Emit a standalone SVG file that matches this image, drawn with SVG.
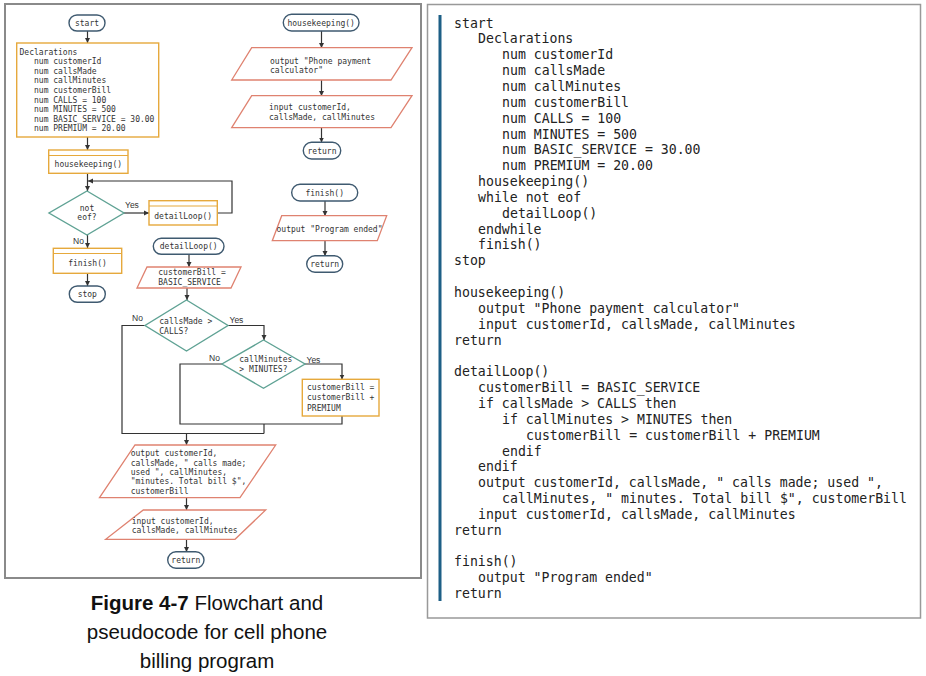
<svg xmlns="http://www.w3.org/2000/svg" width="926" height="676" viewBox="0 0 926 676">
<style>
.fc{font-family:"DejaVu Sans Mono","Liberation Mono",monospace;font-size:8px;fill:#333}
.fcm{font-family:"DejaVu Sans Mono","Liberation Mono",monospace;font-size:8px;fill:#333;text-anchor:middle}
.lbl{font-family:"Liberation Sans","DejaVu Sans",sans-serif;font-size:8.5px;fill:#333}
.term{fill:#fff;stroke:#3f5a70;stroke-width:1.4}
.proc{fill:#fff;stroke:#e6a93c;stroke-width:1.4}
.io{fill:#fff;stroke:#df8270;stroke-width:1.3}
.dec{fill:#fff;stroke:#5fa294;stroke-width:1.4}
.conn path{fill:none;stroke:#333;stroke-width:1.2}
.code{font-family:"DejaVu Sans Mono","Liberation Mono",monospace;font-size:13.2px;fill:#222}
.cap{font-family:"Liberation Sans","DejaVu Sans",sans-serif;font-size:20.5px;fill:#111;text-anchor:middle}
</style>
<defs>
<marker id="arr" markerUnits="userSpaceOnUse" markerWidth="6" markerHeight="6" refX="5" refY="3" orient="auto">
<path d="M0,0.5 L5,3 L0,5.5 z" fill="#333"/>
</marker>
</defs>
<rect width="926" height="676" fill="#fff"/>
<!-- frames -->
<rect id="frameLeft" x="5" y="4" width="416" height="574" fill="none" stroke="#8a8a8a" stroke-width="2"/>
<rect id="frameRight" x="427.5" y="4.5" width="493" height="613.5" fill="none" stroke="#999" stroke-width="1.5"/>
<rect x="438.5" y="15" width="3" height="586" fill="#1d5f86"/>

<!-- connectors -->
<g id="connectors" class="conn">
<path d="M87.5,31 V43" marker-end="url(#arr)"/>
<path d="M87.5,137 V150" marker-end="url(#arr)"/>
<path d="M87.5,173 V191" marker-end="url(#arr)"/>
<path d="M124,213 H149" marker-end="url(#arr)"/>
<path d="M217,213 H232 V181 H88" marker-end="url(#arr)"/>
<path d="M87.5,235 V248" marker-end="url(#arr)"/>
<path d="M87.5,273 V286" marker-end="url(#arr)"/>
<path d="M321.5,31 V48" marker-end="url(#arr)"/>
<path d="M321.5,80 V96" marker-end="url(#arr)"/>
<path d="M321.5,128 V142.5" marker-end="url(#arr)"/>
<path d="M325,201 V216" marker-end="url(#arr)"/>
<path d="M325,241 V256" marker-end="url(#arr)"/>
<path d="M189,254.5 V267" marker-end="url(#arr)"/>
<path d="M187,288 V300" marker-end="url(#arr)"/>
<path d="M228,325.5 H264 V340" marker-end="url(#arr)"/>
<path d="M145,325.5 H122 V433.5 H264"/>
<path d="M305,364 H342 V379.5" marker-end="url(#arr)"/>
<path d="M342,416 V424 H180 V364 H222"/>
<path d="M264,424 V433.5"/>
<path d="M186.5,433.5 V445" marker-end="url(#arr)"/>
<path d="M186.5,498 V510" marker-end="url(#arr)"/>
<path d="M186.5,539.5 V552" marker-end="url(#arr)"/>
</g>

<!-- labels on connectors -->
<g id="connector-labels">
<text class="lbl" x="125" y="207.5">Yes</text>
<text class="lbl" x="73" y="244">No</text>
<text class="lbl" x="132" y="320.5">No</text>
<text class="lbl" x="229.5" y="323">Yes</text>
<text class="lbl" x="209" y="361">No</text>
<text class="lbl" x="306.5" y="363">Yes</text>
</g>

<!-- main line -->
<g id="start">
<rect class="term" x="69" y="15" width="36" height="16" rx="8"/>
<text class="fcm" x="87" y="26">start</text>
</g>
<g id="declarations">
<rect class="proc" x="16.7" y="43" width="142" height="94"/>
<text class="fc" x="19.5" y="54.5">Declarations</text>
<text class="fc" x="34" y="64.2">num customerId</text>
<text class="fc" x="34" y="73.8">num callsMade</text>
<text class="fc" x="34" y="83.4">num callMinutes</text>
<text class="fc" x="34" y="93">num customerBill</text>
<text class="fc" x="34" y="102.6">num CALLS = 100</text>
<text class="fc" x="34" y="112.2">num MINUTES = 500</text>
<text class="fc" x="34" y="121.8">num BASIC_SERVICE = 30.00</text>
<text class="fc" x="34" y="131.4">num PREMIUM = 20.00</text>
</g>
<g id="housekeepingCall">
<rect class="proc" x="48.7" y="150" width="79.3" height="23.3"/>
<line x1="48.7" y1="155.5" x2="128" y2="155.5" stroke="#e6a93c" stroke-width="1.2"/>
<text class="fcm" x="88.3" y="167">housekeeping()</text>
</g>
<g id="notEof">
<polygon class="dec" points="87,191 124,213 87,235 49,213"/>
<text class="fcm" x="87" y="211">not</text>
<text class="fcm" x="87" y="220">eof?</text>
</g>
<g id="detailLoopCall">
<rect class="proc" x="149" y="200.7" width="68.3" height="24.3"/>
<line x1="149" y1="206" x2="217.3" y2="206" stroke="#e6a93c" stroke-width="1.2"/>
<text class="fcm" x="183.2" y="218.5">detailLoop()</text>
</g>
<g id="finishCall">
<rect class="proc" x="53.3" y="248.3" width="68.4" height="25"/>
<line x1="53.3" y1="253.5" x2="121.7" y2="253.5" stroke="#e6a93c" stroke-width="1.2"/>
<text class="fcm" x="87.5" y="266">finish()</text>
</g>
<g id="stop">
<rect class="term" x="69.3" y="286" width="36" height="16.3" rx="8"/>
<text class="fcm" x="87.3" y="297">stop</text>
</g>

<!-- housekeeping module -->
<g id="hkStart">
<rect class="term" x="283.3" y="14.3" width="75.7" height="16.7" rx="8.3"/>
<text class="fcm" x="321.2" y="25.5">housekeeping()</text>
</g>
<g id="hkOutput">
<polygon class="io" points="251.7,47.7 412,47.7 391,80 231.7,80"/>
<text class="fc" x="270" y="64">output "Phone payment</text>
<text class="fc" x="270" y="73.3">calculator"</text>
</g>
<g id="hkInput">
<polygon class="io" points="251.7,95.7 412,95.7 391,127.7 231.7,127.7"/>
<text class="fc" x="269" y="110.3">input customerId,</text>
<text class="fc" x="269" y="120">callsMade, callMinutes</text>
</g>
<g id="hkReturn">
<rect class="term" x="303.3" y="142.3" width="37.4" height="16.7" rx="8.3"/>
<text class="fcm" x="322" y="153.5">return</text>
</g>

<!-- finish module -->
<g id="finStart">
<rect class="term" x="291.7" y="184.3" width="66" height="16.7" rx="8.3"/>
<text class="fcm" x="324.7" y="195.5">finish()</text>
</g>
<g id="finOutput">
<polygon class="io" points="281.7,215.7 386.7,215.7 377.3,240.7 272.3,240.7"/>
<text class="fcm" x="329.5" y="231.5">output "Program ended"</text>
</g>
<g id="finReturn">
<rect class="term" x="306.7" y="255.7" width="36" height="16.6" rx="8.3"/>
<text class="fcm" x="324.7" y="267">return</text>
</g>

<!-- detailLoop module -->
<g id="dlStart">
<rect class="term" x="153.3" y="238.3" width="70.7" height="16" rx="8"/>
<text class="fcm" x="188.7" y="249.3">detailLoop()</text>
</g>
<g id="dlBasic">
<polygon class="io" points="147,267 241,267 231,288 137,288"/>
<text class="fc" x="158.3" y="275">customerBill =</text>
<text class="fc" x="158.3" y="285">BASIC_SERVICE</text>
</g>
<g id="dlCalls">
<polygon class="dec" points="186.5,300 228,325.5 186.5,351 145,325.5"/>
<text class="fc" x="159.3" y="323.5">callsMade &gt;</text>
<text class="fc" x="159.3" y="334">CALLS?</text>
</g>
<g id="dlMinutes">
<polygon class="dec" points="263.5,340 305,364 263.5,388.3 222,364"/>
<text class="fc" x="239.3" y="362">callMinutes</text>
<text class="fc" x="239.3" y="371.5">&gt; MINUTES?</text>
</g>
<g id="dlPremium">
<rect class="proc" x="302.3" y="379.3" width="76.7" height="36.7"/>
<text class="fc" x="307" y="390">customerBill =</text>
<text class="fc" x="307" y="400">customerBill +</text>
<text class="fc" x="307" y="411">PREMIUM</text>
</g>
<g id="dlOutput">
<polygon class="io" points="135,445 275.7,445 240,497.7 99.5,497.7"/>
<text class="fc" x="130.7" y="456.3">output customerId,</text>
<text class="fc" x="130.7" y="465.5">callsMade, " calls made;</text>
<text class="fc" x="130.7" y="474.7">used ", callMinutes,</text>
<text class="fc" x="130.7" y="484">"minutes. Total bill $",</text>
<text class="fc" x="130.7" y="493.5">customerBill</text>
</g>
<g id="dlInput">
<polygon class="io" points="143.3,510 265.7,510 235,539.3 105.7,539.3"/>
<text class="fc" x="131.7" y="523.5">input customerId,</text>
<text class="fc" x="131.7" y="533">callsMade, callMinutes</text>
</g>
<g id="dlReturn">
<rect class="term" x="167.7" y="551.7" width="36.3" height="16.6" rx="8.3"/>
<text class="fcm" x="185.8" y="563">return</text>
</g>

<!-- caption -->
<g id="caption">
<text class="cap" x="207" y="610"><tspan font-weight="bold">Figure 4-7</tspan> Flowchart and</text>
<text class="cap" x="207" y="639">pseudocode for cell phone</text>
<text class="cap" x="207" y="668">billing program</text>
</g>

<!-- pseudocode -->
<g id="pseudocode" class="code">
<text x="454" y="27.5">start</text>
<text x="478" y="43.4">Declarations</text>
<text x="502" y="59.2">num customerId</text>
<text x="502" y="75">num callsMade</text>
<text x="502" y="90.9">num callMinutes</text>
<text x="502" y="106.8">num customerBill</text>
<text x="502" y="122.6">num CALLS = 100</text>
<text x="502" y="138.5">num MINUTES = 500</text>
<text x="502" y="154.3">num BASIC_SERVICE = 30.00</text>
<text x="502" y="170.2">num PREMIUM = 20.00</text>
<text x="478" y="186">housekeeping()</text>
<text x="478" y="201.9">while not eof</text>
<text x="502" y="217.7">detailLoop()</text>
<text x="478" y="233.6">endwhile</text>
<text x="478" y="249.4">finish()</text>
<text x="454" y="265.3">stop</text>
<text x="454" y="297">housekeeping()</text>
<text x="478" y="312.8">output "Phone payment calculator"</text>
<text x="478" y="328.7">input customerId, callsMade, callMinutes</text>
<text x="454" y="344.5">return</text>
<text x="454" y="376.2">detailLoop()</text>
<text x="478" y="392.1">customerBill = BASIC_SERVICE</text>
<text x="478" y="407.9">if callsMade &gt; CALLS then</text>
<text x="502" y="423.8">if callMinutes &gt; MINUTES then</text>
<text x="526" y="439.6">customerBill = customerBill + PREMIUM</text>
<text x="502" y="455.5">endif</text>
<text x="478" y="471.3">endif</text>
<text x="478" y="487.2">output customerId, callsMade, " calls made; used ",</text>
<text x="502" y="503">callMinutes, " minutes. Total bill $", customerBill</text>
<text x="478" y="518.9">input customerId, callsMade, callMinutes</text>
<text x="454" y="534.7">return</text>
<text x="454" y="566.4">finish()</text>
<text x="478" y="582.3">output "Program ended"</text>
<text x="454" y="598.1">return</text>
</g>
</svg>
